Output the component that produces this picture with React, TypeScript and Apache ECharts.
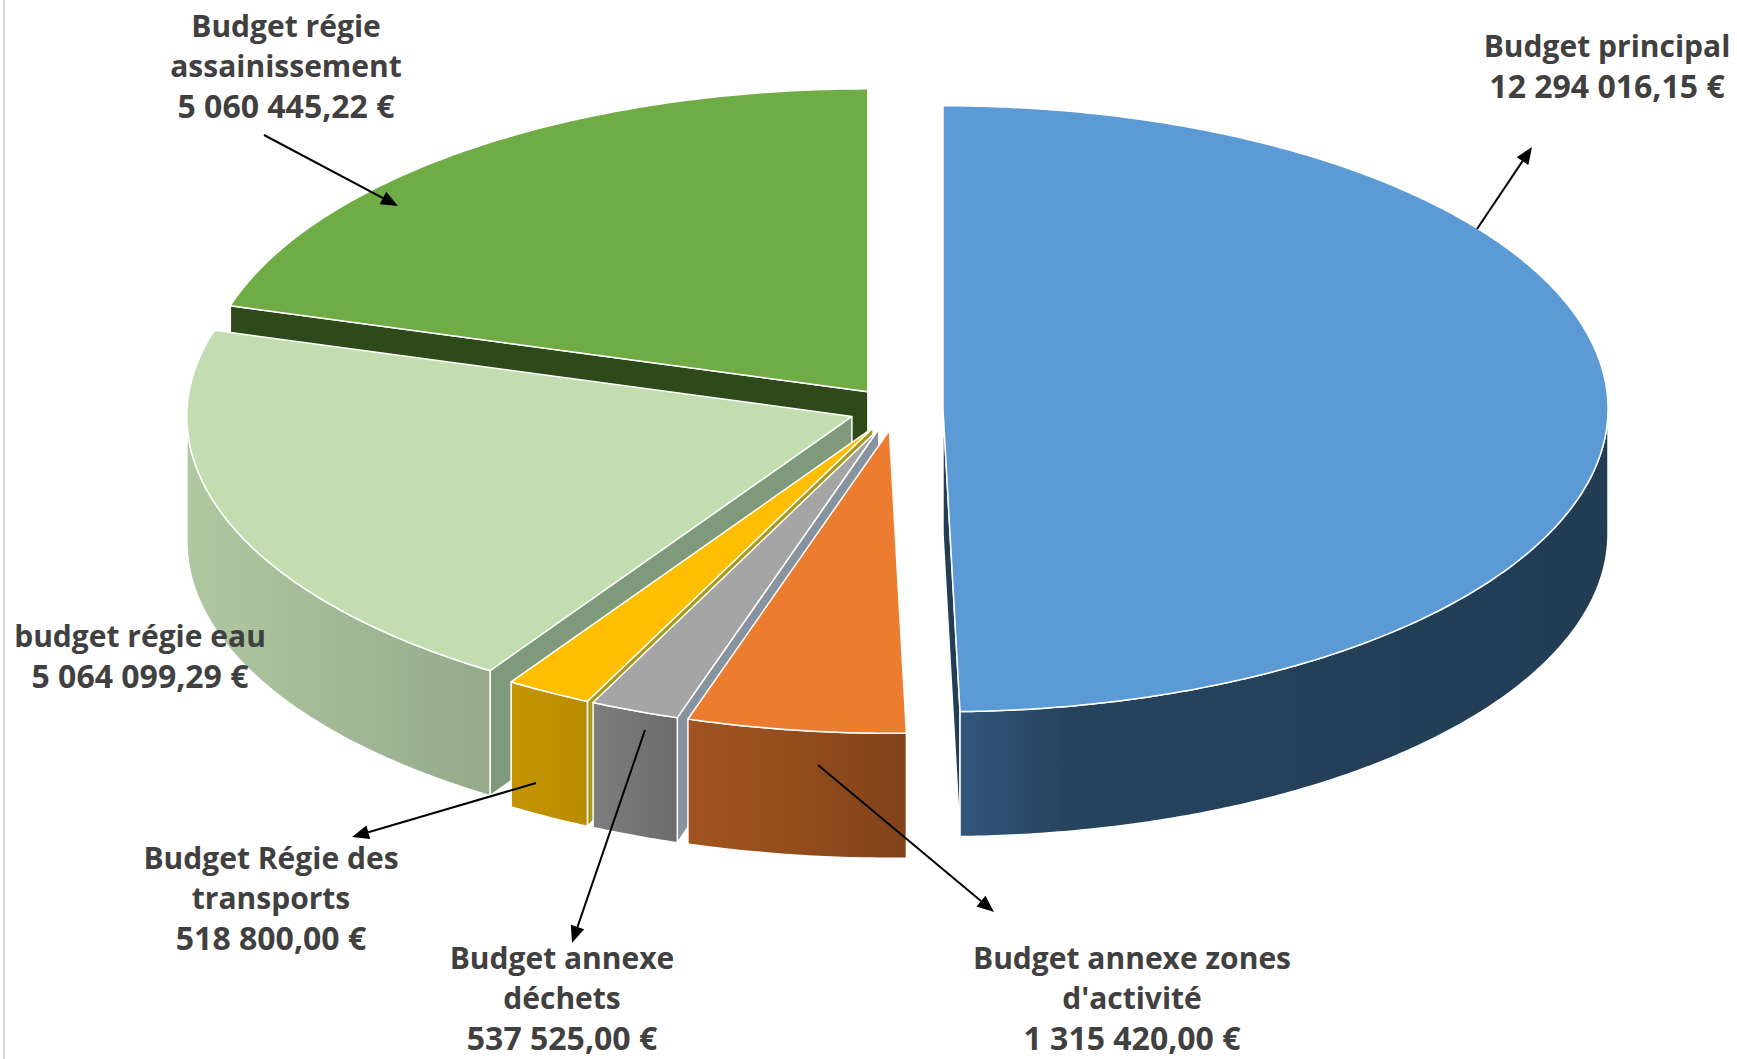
import React, { useEffect, useRef } from "react";
import * as echarts from "echarts";

// ---- data, clockwise from 12 o'clock ----
const budgetNames = [
  "Budget principal",
  "Budget annexe zones\nd'activité",
  "Budget annexe\ndéchets",
  "Budget Régie des\ntransports",
  "budget régie eau",
  "Budget régie\nassainissement",
];
const budgetValues = [12294016.15, 1315420.0, 537525.0, 518800.0, 5064099.29, 5060445.22];

// ---- styles ----
const topColors = ["#5b9ad5", "#ec7c30", "#a5a5a5", "#ffbf00", "#c4ddb0", "#6fac46"];
const edgeColors = ["#223e56", "#8f4a1c", "#8893a0", "#a89a1a", "#7f9a7a", "#2e4a1b"];
const sideStops: [number, string][][] = [
  [[0, "#33567c"], [0.16, "#27445f"], [1, "#213c53"]],
  [[0, "#a2541f"], [0.5, "#934c1c"], [1, "#81431a"]],
  [[0, "#7e7e7e"], [0.5, "#757575"], [1, "#6b6b6b"]],
  [[0, "#c59600"], [0.5, "#bf9000"], [1, "#b98c00"]],
  [[0, "#b0c8a2"], [0.5, "#a3b996"], [1, "#96aa89"]],
  [[0, "#2e4a1b"], [1, "#2e4a1b"]],
];
const textColor = "#404040";
const fontFamily = "'Open Sans', sans-serif";

// ---- projection of the tilted pie ----
const CX = 896;
const CY = 409;
const RX = 665;
const RY = 303;
const DEPTH = 125;
const EXPLODE = 47;
const DEG = Math.PI / 180;

const total = budgetValues.reduce((a, b) => a + b, 0);
const paintOrder = [5, 4, 3, 2, 1, 0];

function formatEuro(v: number) {
  const [i, d] = v.toFixed(2).split(".");
  return i.replace(/\B(?=(\d{3})+$)/g, " ") + "," + d + " €";
}

function sliceStart(index: number) {
  let before = 0;
  for (let i = 0; i < index; i++) before += budgetValues[i];
  return (before / total) * 360;
}

function renderSlice(params: any, api: any) {
  const index = paintOrder[params.dataIndex];
  const value = api.value(0);
  const t0 = sliceStart(index);
  const t1 = t0 + (value / total) * 360;
  const mid = ((t0 + t1) / 2) * DEG;
  const ox = CX + EXPLODE * Math.sin(mid);
  const oy = CY - (EXPLODE * RY * Math.cos(mid)) / RX;
  const rim = (t: number): number[] => [
    ox + RX * Math.sin(t * DEG),
    oy - RY * Math.cos(t * DEG),
  ];
  const stroke = { stroke: "#ffffff", lineWidth: 1.5, lineJoin: "round" };
  const children: any[] = [];
  const radial = (t: number) => {
    const p = rim(t);
    children.push({
      type: "polygon",
      shape: { points: [[ox, oy], p, [p[0], p[1] + DEPTH], [ox, oy + DEPTH]] },
      style: { fill: edgeColors[index], ...stroke },
    });
  };
  if (Math.sin(t0 * DEG) < -1e-6) radial(t0);
  if (Math.sin(t1 * DEG) > 1e-6) radial(t1);

  const a = Math.max(t0, 90);
  const b = Math.min(t1, 270);
  if (b > a) {
    const upper: number[][] = [];
    const lower: number[][] = [];
    for (let t = a; t < b; t += 0.5) upper.push(rim(t));
    upper.push(rim(b));
    for (const p of upper) lower.unshift([p[0], p[1] + DEPTH]);
    children.push({
      type: "polygon",
      shape: { points: upper.concat(lower) },
      style: {
        fill: new echarts.graphic.LinearGradient(
          0,
          0,
          1,
          0,
          sideStops[index].map(([offset, color]) => ({ offset, color }))
        ),
        ...stroke,
      },
    });
  }

  const topPts: number[][] = [[ox, oy]];
  for (let t = t0; t < t1; t += 0.5) topPts.push(rim(t));
  topPts.push(rim(t1));
  children.push({
    type: "polygon",
    shape: { points: topPts },
    style: { fill: topColors[index], ...stroke },
  });
  return { type: "group", children };
}

// ---- annotations: centre x and the first line's centre y of each label ----
const labelAnchors = [
  { i: 0, x: 1607, y: 45 },
  { i: 1, x: 1132, y: 957 },
  { i: 2, x: 562, y: 957 },
  { i: 3, x: 271, y: 857 },
  { i: 4, x: 140, y: 635 },
  { i: 5, x: 286, y: 25 },
];
const LINE_STEP = 40;
const arrows = [
  [1477, 229, 1532, 147],
  [264, 135, 398, 206],
  [536, 783, 352, 837],
  [645, 730, 572, 943],
  [818, 765, 994, 912],
];

function arrowElements() {
  const out: any[] = [];
  for (const [x1, y1, x2, y2] of arrows) {
    const len = Math.hypot(x2 - x1, y2 - y1);
    const ux = (x2 - x1) / len;
    const uy = (y2 - y1) / len;
    const bx = x2 - ux * 17;
    const by = y2 - uy * 17;
    out.push({
      type: "line",
      z: 20,
      shape: { x1, y1, x2: bx, y2: by },
      style: { stroke: "#000000", lineWidth: 2 },
    });
    out.push({
      type: "polygon",
      z: 20,
      shape: {
        points: [
          [x2, y2],
          [bx - uy * 7, by + ux * 7],
          [bx + uy * 7, by - ux * 7],
        ],
      },
      style: { fill: "#000000" },
    });
  }
  return out;
}

function labelElements() {
  const out: any[] = [];
  for (const { i, x, y } of labelAnchors) {
    const lines = (budgetNames[i] + "\n" + formatEuro(budgetValues[i])).split("\n");
    lines.forEach((line, n) => {
      const isValue = n === lines.length - 1;
      out.push({
        type: "text",
        z: 21,
        x,
        y: y + n * LINE_STEP,
        style: {
          text: line,
          fill: textColor,
          font: `700 ${isValue ? 32 : 30}px ${fontFamily}`,
          align: "center",
          verticalAlign: "middle",
        },
      });
    });
  }
  return out;
}

export default function App() {
  const ref = useRef<HTMLDivElement>(null);
  useEffect(() => {
    document.body.style.margin = "0";
    document.body.style.background = "#ffffff";
    const chart = echarts.init(ref.current!, undefined, { renderer: "svg" });
    chart.setOption({
      animation: false,
      backgroundColor: "#ffffff",
      series: [
        {
          type: "custom",
          coordinateSystem: "none",
          renderItem: renderSlice,
          silent: true,
          data: paintOrder.map((i) => ({ name: budgetNames[i], value: budgetValues[i] })),
        },
      ],
      graphic: [
        {
          type: "rect",
          z: 1,
          shape: { x: 3, y: 0, width: 2, height: 1059 },
          style: { fill: "#d9d9d9" },
        },
        ...arrowElements(),
        ...labelElements(),
      ],
    });
    return () => chart.dispose();
  }, []);
  return (
    <div
      ref={ref}
      style={{ position: "absolute", left: 0, top: 0, width: 1737, height: 1059 }}
    />
  );
}
